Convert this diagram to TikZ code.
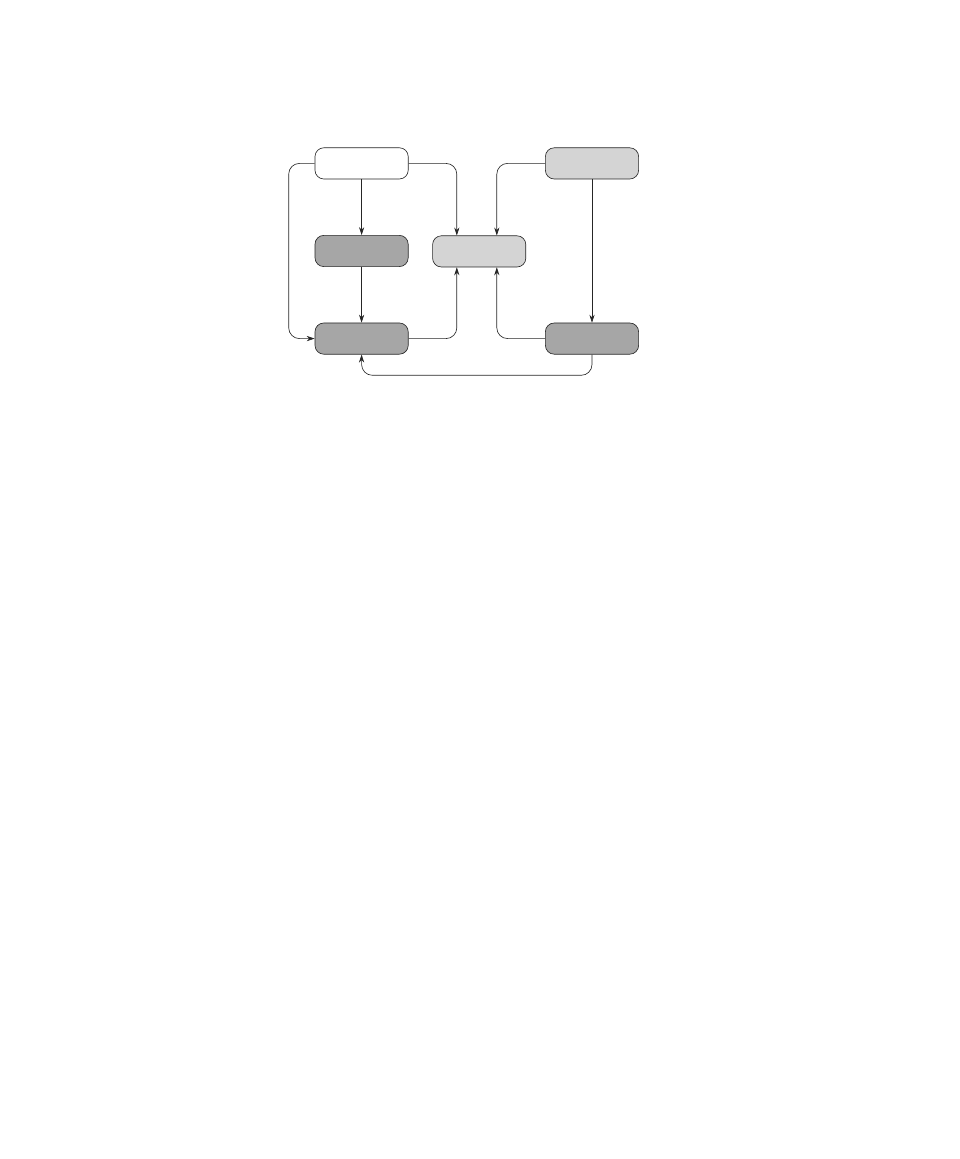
\documentclass[tikz,border=0pt]{standalone}
\usepackage{xcolor}
\usepackage{tikz}
\usetikzlibrary{shapes,arrows,calc}
\usetikzlibrary{arrows.meta}
\definecolor{boxDark}{HTML}{A6A6A6}
\definecolor{boxLight}{HTML}{D4D4D4}
\tikzstyle{tsBox} = [ 
    rectangle,
    rounded corners=0.22cm,
    draw=black!85,
    line width=0.45pt,
    minimum width=2.33cm,
    minimum height=0.78cm,
    inner sep=0pt]
\tikzstyle{tsLink} = [ 
    draw=black!85,
    line width=0.45pt,
    rounded corners=0.27cm,
    -{Stealth[length=2mm, width=1.3mm]}]

\begin{document}
\begin{tikzpicture}
        
     	\useasboundingbox (0,0) rectangle (23.975,28.975);
     	
    	\node[	tsBox, 
                fill=white] (topl) at (9.04,24.89) {};
                
      	\node[	tsBox, 
                fill=boxDark] (midl) at (9.04,22.70) {};
                
       	\node[	tsBox, 
                fill=boxDark] (botl) at (9.04,20.51) {};
                
       	\node[	tsBox, 
                fill=boxLight] (mid) at (11.98,22.69) {};
                
        \node[	tsBox, 
                fill=boxLight] (topr) at (14.80,24.89) {};
               
        \node[	tsBox, 
                fill=boxDark] (botr) at (14.80,20.51) {};
        
        % entry points on the centre box
        \coordinate (midNl) at ($(mid.north)+(-0.56,0)$);
        \coordinate (midNr) at ($(mid.north)+(0.44,0)$);
        \coordinate (midSl) at ($(mid.south)+(-0.56,0)$);
        \coordinate (midSr) at ($(mid.south)+(0.44,0)$);
       
		\draw[tsLink] (topl.south) -- (midl.north);
		\draw[tsLink] (midl.south) -- (botl.north);
		\draw[tsLink] (topr.south) -- (botr.north);
		\draw[tsLink] (topl.west) -- ++(-0.65,0) |- (botl.west);
		\draw[tsLink] (topl.east) -| (midNl);
		\draw[tsLink] (topr.west) -| (midNr);
		\draw[tsLink] (botl.east) -| (midSl);
		\draw[tsLink] (botr.west) -| (midSr);
		\draw[tsLink] (botr.south) -- ++(0,-0.52) -| (botl.south);
       
    \end{tikzpicture}
\end{document}
